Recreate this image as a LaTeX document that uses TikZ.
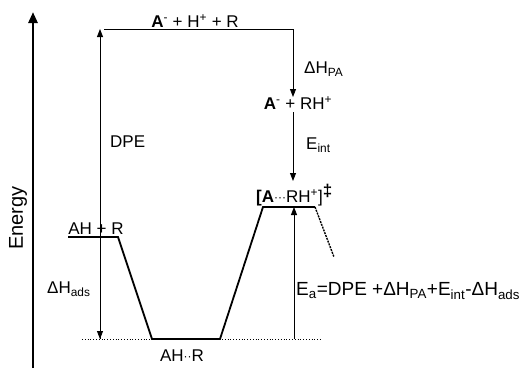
\documentclass[tikz,border=0pt]{standalone}
\usepackage{fontspec}
\setmainfont{Liberation Sans}
\usetikzlibrary{arrows.meta}
\newcommand{\mydots}[1]{\raisebox{1pt}{\fontsize{12}{12}\selectfont#1}}
\begin{document}
\begin{tikzpicture}[x=1pt,y=-1pt,
  lbl/.style={font=\fontsize{17}{19}\selectfont, inner sep=0pt},
  conn/.style={line width=0.9pt, -{Triangle[length=8pt,width=6pt]}},
  level/.style={line width=1.8pt, line join=miter},
  guide/.style={line width=0.8pt, dotted}]
\useasboundingbox (0,0) rectangle (522,368);
% energy axis
\coordinate (e0) at (33,368);
\coordinate (e1) at (33,12);
\draw[line width=2.6pt, -{Triangle[length=11pt,width=9pt]}] (e0) -- (e1);
\node[lbl, font=\fontsize{20}{22}\selectfont, rotate=90] (energy) at (18,218) {Energy};
% coordinates
\coordinate (top) at (100,29);
\coordinate (topl) at (104,29);
\coordinate (topr) at (293,29);
\coordinate (bot) at (100,339);
\coordinate (ahr) at (100,237);
\coordinate (tsb) at (294,339);
\coordinate (tst) at (294,207);
% guide line
\coordinate (g0) at (82,339);
\coordinate (g1) at (321,339);
\draw[guide] (g0) -- (g1);
% profile
\coordinate (p1) at (68,237);
\coordinate (p2) at (118,237);
\coordinate (p3) at (152,339);
\coordinate (p4) at (220,339);
\coordinate (p5) at (263,207);
\coordinate (p6) at (315,207);
\coordinate (p7) at (334,257);
\draw[level] (p1) -- (p2) -- (p3) -- (p4) -- (p5) -- (p6);
\draw[line width=1.4pt, dash pattern=on 2pt off 1pt] (p6) -- (p7);
% labels
\node[lbl] (lab1) at (195,21) {\textbf{A}\textsuperscript{-} + H\textsuperscript{+} + R};
\node[lbl] (lab2) at (298,103) {\textbf{A}\textsuperscript{-} + RH\textsuperscript{+}};
\node[lbl, anchor=west] (lab3) at (256,195) {\textbf{[A}\mydots{···}RH\textsuperscript{+}]\raisebox{6pt}{\textbf{‡}}};
\node[lbl] (lab4) at (96,229) {AH + R};
\node[lbl] (lab5) at (182,356) {AH\mydots{··}R};
\node[lbl, anchor=west] (dpe) at (110,142) {DPE};
\node[lbl, anchor=west] (dhads) at (47,289) {ΔH\textsubscript{ads}};
\node[lbl, anchor=west] (dhpa) at (304,69) {ΔH\textsubscript{PA}};
\node[lbl, anchor=west] (eint) at (306,145) {E\textsubscript{int}};
\node[lbl, font=\fontsize{19}{21}\selectfont, anchor=west] (ea) at (296,291) {E\textsubscript{a}=DPE +ΔH\textsubscript{PA}+E\textsubscript{int}-ΔH\textsubscript{ads}};
% connectors
\coordinate (a2) at (293,97);
\coordinate (a3) at (293,112);
\coordinate (a4) at (293,181);
\draw[line width=0.9pt] (topl) -- (topr);
\draw[conn] (topr) -- (a2);
\draw[conn] (a3) -- (a4);
\draw[conn] (bot) -- (top);
\draw[conn] (ahr) -- (bot);
\draw[conn] (tsb) -- (tst);
\end{tikzpicture}
\end{document}
